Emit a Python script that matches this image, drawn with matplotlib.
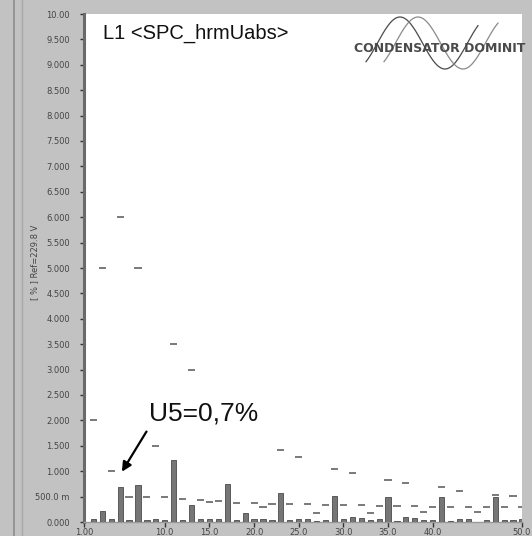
import numpy as np
import matplotlib
matplotlib.use('Agg')
import matplotlib.pyplot as plt
from matplotlib.lines import Line2D

# harmonic order 2..50
harmonics = np.arange(2, 51)

# measured harmonic voltage, % of reference
values = [0.065, 0.21, 0.06, 0.69, 0.03, 0.72, 0.03, 0.05, 0.03, 1.22,
          0.03, 0.34, 0.05, 0.05, 0.05, 0.74, 0.03, 0.17, 0.05, 0.05,
          0.03, 0.58, 0.03, 0.06, 0.05, 0.01, 0.03, 0.51, 0.05, 0.09,
          0.08, 0.03, 0.05, 0.49, 0.02, 0.09, 0.08, 0.03, 0.03, 0.50,
          0.02, 0.06, 0.05, 0.005, 0.03, 0.49, 0.03, 0.03, 0.05]

# limit markers (nan = not visible)
limits = [2.0, 5.0, 1.0, 6.0, 0.5, 5.0, 0.5, 1.5, 0.5, 3.5,
          0.46, 3.0, 0.43, 0.40, 0.42, np.nan, 0.37, np.nan, 0.38, 0.30,
          0.35, 1.42, 0.35, 1.27, 0.35, 0.18, 0.33, 1.05, 0.33, 0.96,
          0.33, 0.18, 0.31, 0.83, 0.31, 0.77, 0.31, 0.19, 0.30, 0.68,
          0.30, 0.62, 0.30, 0.19, 0.30, 0.54, 0.30, 0.51, 0.30]

y_ticks = np.arange(0, 10.01, 0.5)
y_labels = ['0.000', '500.0 m', '1.000', '1.500', '2.000', '2.500', '3.000',
            '3.500', '4.000', '4.500', '5.000', '5.500', '6.000', '6.500',
            '7.000', '7.500', '8.000', '8.500', '9.000', '9.500', '10.00']
x_ticks = [1, 10, 15, 20, 25, 30, 35, 40, 50]
x_labels = ['1.00', '10.0', '15.0', '20.0', '25.0', '30.0', '35.0', '40.0', '50.0']

W, H = 532, 536
fig = plt.figure(figsize=(W / 100, H / 100), dpi=100, facecolor='#c2c2c2')
ax = fig.add_axes([84.4 / W, (H - 522) / H, 437.6 / W, 508 / H])
ax.set_facecolor('white')

ax.bar(harmonics, values, width=0.58, color='#767676', edgecolor='#4a4a4a',
       linewidth=0.6, zorder=3)
ax.hlines(limits, harmonics - 0.4, harmonics + 0.4, colors='#6e6e6e',
          linewidth=1.3, zorder=2)

ax.set_xlim(1, 50)
ax.set_ylim(0, 10)
ax.set_yticks(y_ticks)
ax.set_yticklabels(y_labels)
ax.set_xticks(x_ticks)
ax.set_xticklabels(x_labels)
ax.tick_params(axis='y', direction='out', length=3, width=1, color='#333333',
               pad=7.5, labelsize=6, labelcolor='#444444')
ax.tick_params(axis='x', direction='out', length=3.5, width=1, color='#333333',
               pad=0.8, labelsize=6, labelcolor='#444444')

for s in ['top', 'right']:
    ax.spines[s].set_visible(False)
ax.spines['left'].set_color('#6a6a6a')
ax.spines['left'].set_linewidth(2.2)
ax.spines['bottom'].set_color('#9a9a9a')
ax.spines['bottom'].set_linewidth(1)

fig.text(35 / W, 1 - 262 / H, '[ % ] Ref=229.8 V', rotation=90,
         ha='center', va='center', fontsize=6, color='#444444')

# neighbour panel edge on the left
fig.add_artist(Line2D([14 / W, 14 / W], [0, 1], color='#8c8c8c', lw=1.2))
fig.add_artist(Line2D([22 / W, 22 / W], [0, 1], color='#a8a8a8', lw=1.0))

ax.text(0.0436, 0.9626, 'L1 <SPC_hrmUabs>', transform=ax.transAxes,
        ha='left', va='center', fontsize=14.5, family='Liberation Sans',
        color='#111111')

# annotation for U5
ax.text(8.2, 2.13, 'U5=0,7%', ha='left', va='center', fontsize=19,
        family='Liberation Sans', color='#111111', zorder=5)
ax.annotate('', xy=(5.2, 0.99), xytext=(7.95, 1.78),
            arrowprops=dict(arrowstyle='-|>', color='black', lw=1.6,
                            mutation_scale=14, shrinkA=0, shrinkB=0))

# logo
def to_ax(px, py):
    return (px - 84.4) / 437.6, (522 - py) / 508

xs = np.linspace(366, 478, 200)
fx, fy = to_ax(xs, 43 - 26 * np.cos(np.pi * (xs - 400) / 45))
ax.plot(fx, fy, color='#4a4a4a', lw=0.9, transform=ax.transAxes, zorder=4)
xs2 = np.linspace(384, 498, 200)
fx2, fy2 = to_ax(xs2, 43 - 26 * np.cos(np.pi * (xs2 - 418) / 45))
ax.plot(fx2, fy2, color='#8a8a8a', lw=0.9, transform=ax.transAxes, zorder=4)
lx, ly = to_ax(440, 48)
ax.text(lx, ly, 'CONDENSATOR DOMINIT', transform=ax.transAxes, ha='center',
        va='center', fontsize=9, fontweight='bold', color='#4a4a4a', zorder=5)

fig.savefig('out.png', dpi=100, facecolor=fig.get_facecolor())
